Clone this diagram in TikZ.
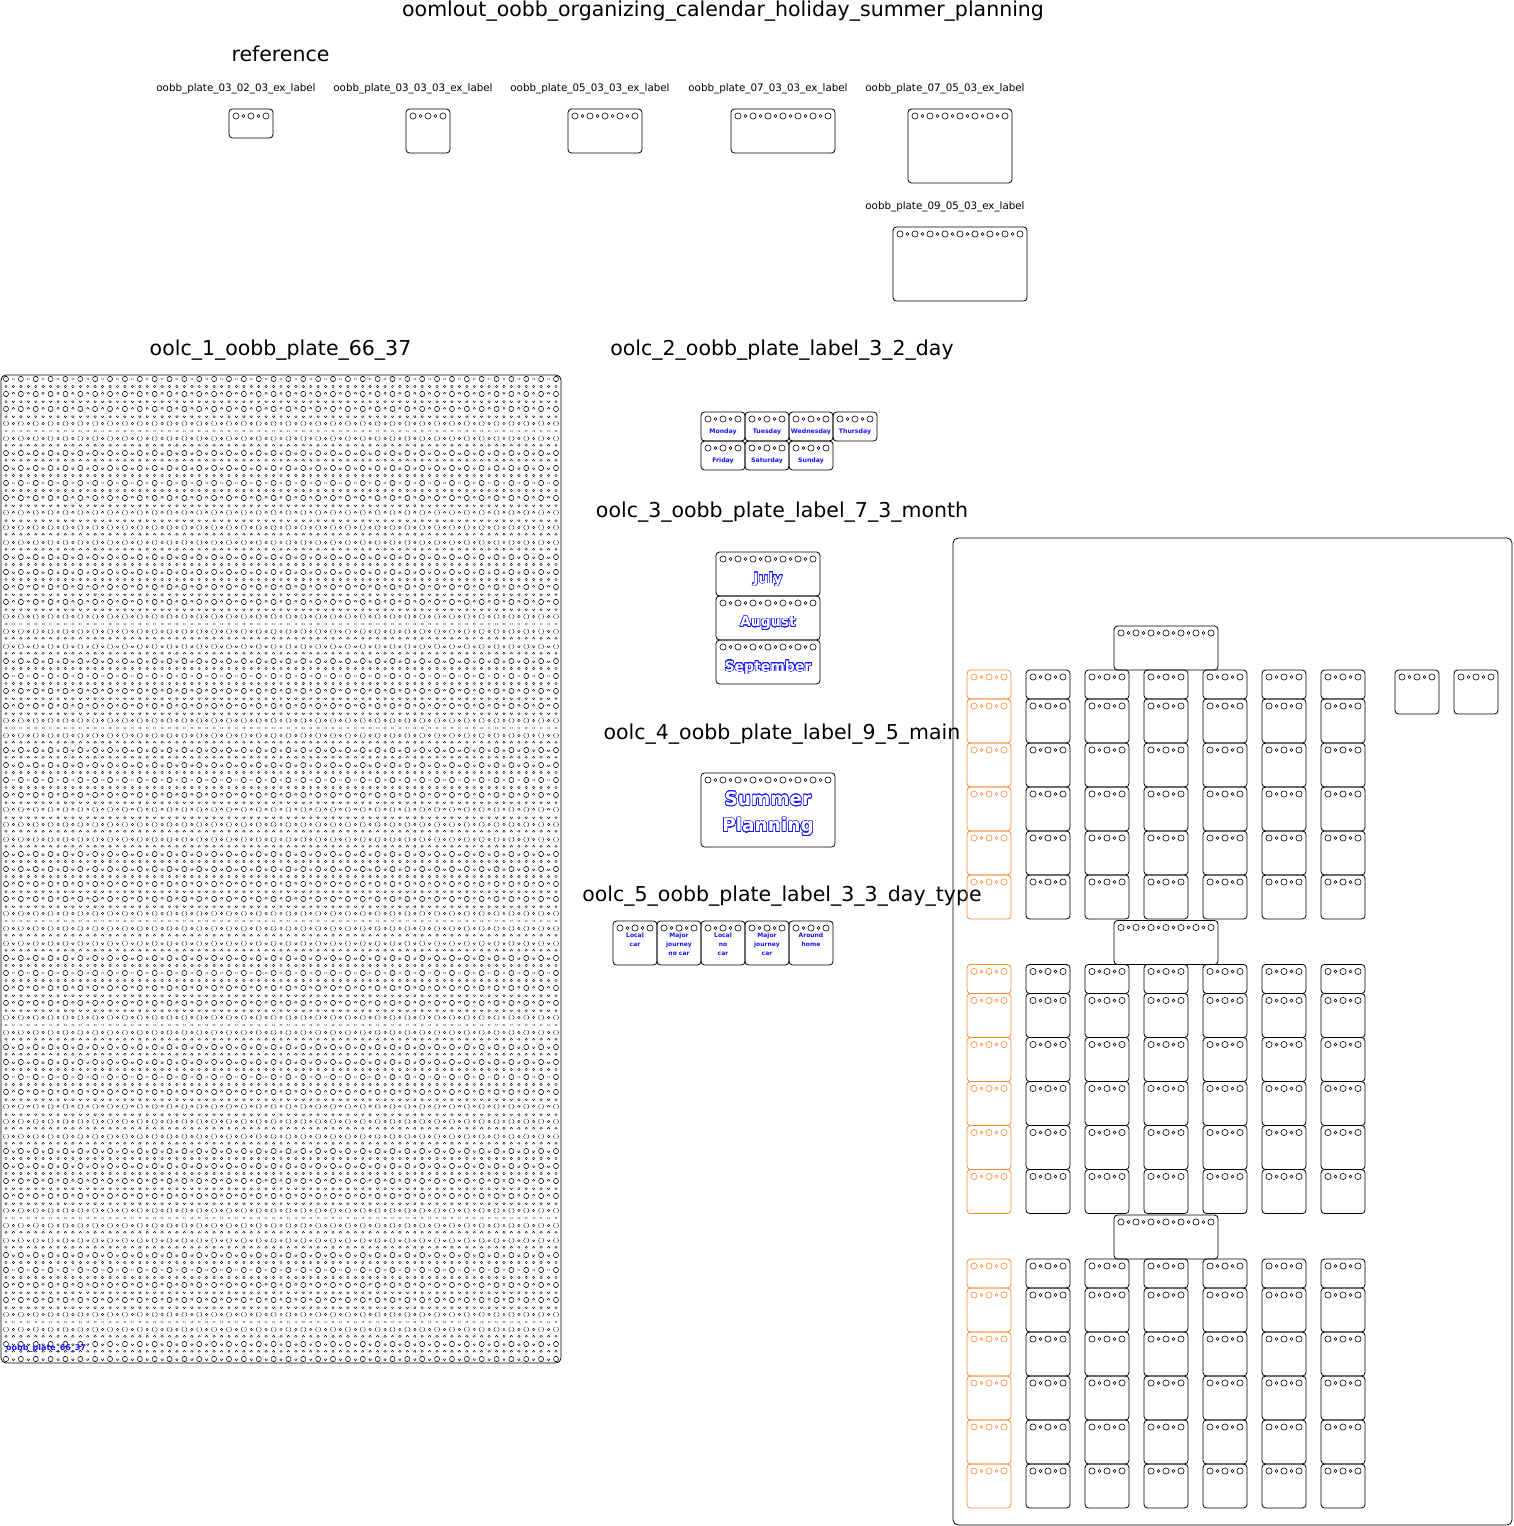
\documentclass[tikz,border=0pt]{standalone}
\usepackage{fontspec}
\setmainfont{DejaVu Sans}
\usepackage{contour}
\contourlength{0.55pt}
\contournumber{24}
\definecolor{plorange}{RGB}{255,136,51}
\definecolor{lblue}{RGB}{20,20,255}
\tikzset{
  plateb/.style={draw=black, line width=0.8pt, rounded corners=3.5pt},
  bigplate/.style={draw=black, line width=0.8pt, rounded corners=5pt},
  hole/.style={draw=black, line width=0.6pt},
  bdot/.style={draw=black, line width=5.6pt, line cap=round, dash pattern=on 0.01pt off 14.855pt},
  bdotw/.style={draw=white, line width=4.4pt, line cap=round, dash pattern=on 0.01pt off 14.855pt},
  sdot/.style={draw=black, line width=2.9pt, line cap=round, dash pattern=on 0.01pt off 14.855pt},
  sdotw/.style={draw=white, line width=1.7pt, line cap=round, dash pattern=on 0.01pt off 14.855pt},
  hdot/.style={draw=black, line width=2.9pt, line cap=round, dash pattern=on 0.01pt off 7.4224pt},
  hdotw/.style={draw=white, line width=1.7pt, line cap=round, dash pattern=on 0.01pt off 7.4224pt},
  ttl/.style={font=\fontsize{20.5}{24}\selectfont, inner sep=0pt},
  sml/.style={font=\fontsize{10.3}{12}\selectfont, inner sep=0pt},
  daylbl/.style={font=\bfseries\fontsize{6.2}{7}\selectfont, text=lblue, inner sep=0pt},
  typelbl/.style={font=\bfseries\fontsize{6}{9}\selectfont, text=lblue, inner sep=0pt, align=center, anchor=north},
  monlbl/.style={font=\bfseries\fontsize{14}{16}\selectfont, inner sep=0pt},
  mainlbl/.style={font=\bfseries\fontsize{18.5}{20}\selectfont, inner sep=0pt},
}
\newcommand{\oplate}[5]{%
  \pgfmathsetmacro{\pw}{#3*15-1}%
  \pgfmathsetmacro{\ph}{#4*15-1}%
  \draw[plateb,draw=#5] (#1,#2) rectangle ++(\pw,\ph);
  \pgfmathtruncatemacro{\nb}{#3-1}%
  \draw[hole,draw=#5] foreach \k in {0,...,\nb} {({#1+7+15*\k},{#2+7}) circle (3.1pt)};
  \pgfmathtruncatemacro{\ns}{#3-2}%
  \draw[hole,draw=#5] foreach \k in {0,...,\ns} {({#1+14.5+15*\k},{#2+7}) circle (1.5pt)};
}
\newcommand{\hollow}[1]{\contour{lblue}{\textcolor{white}{#1}}}
\begin{document}
\begin{tikzpicture}[x=1pt,y=-1pt]
\useasboundingbox (0,0) rectangle (1513,1526);

% titles
\node[ttl] (title) at (723,11) {oomlout\_oobb\_organizing\_calendar\_holiday\_summer\_planning};
\node[ttl] (refT) at (280.5,54) {reference};
\node[ttl] (s1) at (280.5,350) {oolc\_1\_oobb\_plate\_66\_37};
\node[ttl] (s2) at (782,350) {oolc\_2\_oobb\_plate\_label\_3\_2\_day};
\node[ttl] (s3) at (782,512) {oolc\_3\_oobb\_plate\_label\_7\_3\_month};
\node[ttl] (s4) at (782,734) {oolc\_4\_oobb\_plate\_label\_9\_5\_main};
\node[ttl] (s5) at (782,896) {oolc\_5\_oobb\_plate\_label\_3\_3\_day\_type};

% reference plates
\node[sml] (r1) at (236,88.5) {oobb\_plate\_03\_02\_03\_ex\_label};
\node[sml] (r2) at (413,88.5) {oobb\_plate\_03\_03\_03\_ex\_label};
\node[sml] (r3) at (590,88.5) {oobb\_plate\_05\_03\_03\_ex\_label};
\node[sml] (r4) at (768,88.5) {oobb\_plate\_07\_03\_03\_ex\_label};
\node[sml] (r5) at (945,88.5) {oobb\_plate\_07\_05\_03\_ex\_label};
\node[sml] (r6) at (945,206.5) {oobb\_plate\_09\_05\_03\_ex\_label};
\oplate{229}{109}{3}{2}{black}
\oplate{406}{109}{3}{3}{black}
\oplate{568}{109}{5}{3}{black}
\oplate{731}{109}{7}{3}{black}
\oplate{908}{109}{7}{5}{black}
\oplate{893}{227}{9}{5}{black}

% big plate
\draw[bigplate] (1,375) rectangle (561,1363);
\foreach \r in {0,...,66} {
  \pgfmathsetmacro{\yy}{379+\r*14.85}
  \draw[bdot] (6,\yy) -- (556.6,\yy);
  \draw[bdotw] (6,\yy) -- (556.6,\yy);
  \draw[sdot] (13.43,\yy) -- (549.2,\yy);
  \draw[sdotw] (13.43,\yy) -- (549.2,\yy);
}
\foreach \r in {0,...,65} {
  \pgfmathsetmacro{\yy}{386.43+\r*14.85}
  \draw[hdot] (6,\yy) -- (556.6,\yy);
  \draw[hdotw] (6,\yy) -- (556.6,\yy);
}
\node[font=\bfseries\fontsize{8}{9}\selectfont, text=lblue, inner sep=0pt, anchor=west] (bigl) at (6,1348) {oobb\_plate\_66\_37};

% day plates
\foreach \i/\d in {0/Monday,1/Tuesday,2/Wednesday,3/Thursday} {
  \oplate{701+44*\i}{412}{3}{2}{black}
  \node[daylbl] (d\i) at ({723+44*\i},431.5) {\d};
}
\foreach \i/\d in {0/Friday,1/Saturday,2/Sunday} {
  \oplate{701+44*\i}{441}{3}{2}{black}
  \node[daylbl] (e\i) at ({723+44*\i},460.5) {\d};
}

% month plates
\foreach \i/\m in {0/July,1/August,2/September} {
  \oplate{716}{552+44*\i}{7}{3}{black}
  \node[monlbl] (m\i) at (768,{579.5+44*\i}) {\hollow{\m}};
}

% main plate
\oplate{701}{773}{9}{5}{black}
\node[mainlbl] (mainA) at (768,799) {\hollow{Summer}};
\node[mainlbl] (mainB) at (768,827) {\hollow{Planning}};

% day type plates
\foreach \i in {0,...,4} { \oplate{613+44*\i}{921}{3}{3}{black} }
\node[typelbl] (t0) at (635,933) {Local\\car};
\node[typelbl] (t1) at (679,933) {Major\\journey\\no car};
\node[typelbl] (t2) at (723,933) {Local\\no\\car};
\node[typelbl] (t3) at (767,933) {Major\\journey\\car};
\node[typelbl] (t4) at (811,933) {Around\\home};

% right layout plate
\draw[bigplate] (953,538) rectangle (1512,1525);
\foreach \b in {0,1,2} {
  \pgfmathsetmacro{\by}{626+294.5*\b}
  \oplate{1114}{\by}{7}{3}{black}
  \oplate{967}{\by+44}{3}{2}{plorange}
  \foreach \j in {1,...,6} { \oplate{967+59*\j}{\by+44}{3}{2}{black} }
  \foreach \i in {0,...,4} {
    \oplate{967}{\by+73+44*\i}{3}{3}{plorange}
    \foreach \j in {1,...,6} { \oplate{967+59*\j}{\by+73+44*\i}{3}{3}{black} }
  }
}
\oplate{1395}{670}{3}{3}{black}
\oplate{1454}{670}{3}{3}{black}
\end{tikzpicture}
\end{document}
